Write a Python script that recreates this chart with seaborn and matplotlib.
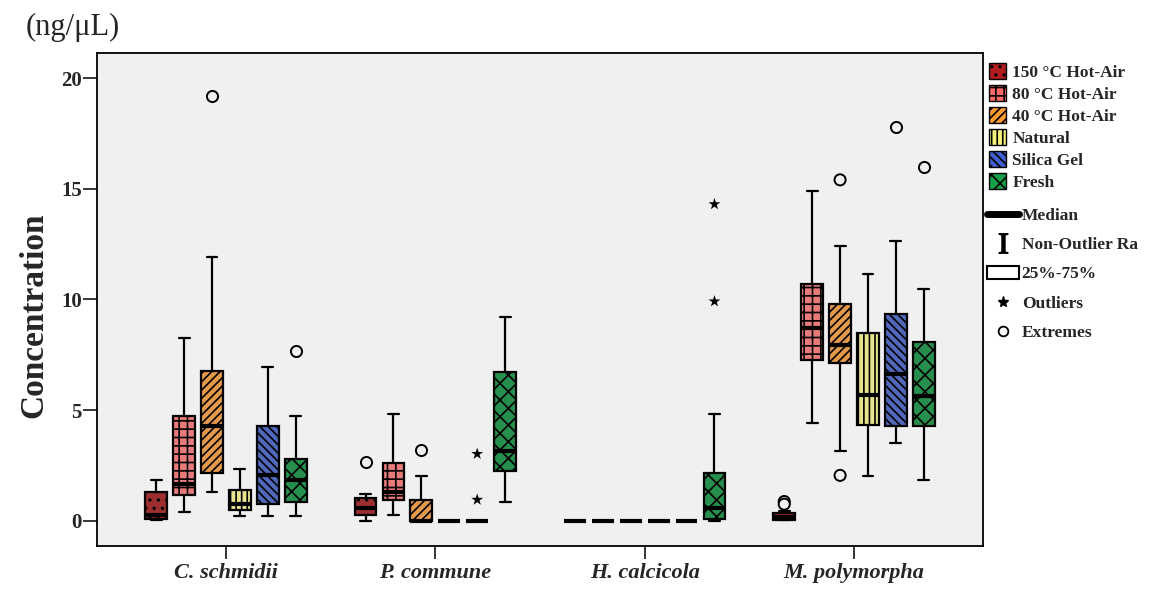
import numpy as np
import pandas as pd
import matplotlib
matplotlib.use("Agg")
import matplotlib.pyplot as plt
import matplotlib.patches as mpatches
from matplotlib.lines import Line2D
import seaborn as sns

# -- data
species = ["C. schmidii", "P. commune", "H. calcicola", "M. polymorpha"]
treatments = ["150 °C Hot-Air", "80 °C Hot-Air", "40 °C Hot-Air",
              "Natural", "Silica Gel", "Fresh"]

# five-number summaries (rows = species, columns = treatments)
whisker_low = [
    [0.05, 0.39, 1.32, 0.20, 0.20, 0.20],
    [0.00, 0.27, 0.00, 0.00, 0.00, 0.83],
    [0.00, 0.00, 0.00, 0.00, 0.00, 0.00],
    [0.02, 4.41, 3.16, 2.03, 3.51, 1.82],
]
quart_1 = [
    [0.07, 1.17, 2.15, 0.47, 0.77, 0.83],
    [0.27, 0.95, 0.00, 0.00, 0.00, 2.23],
    [0.00, 0.00, 0.00, 0.00, 0.00, 0.06],
    [0.05, 7.27, 7.12, 4.33, 4.26, 4.30],
]
medians = [
    [0.25, 1.67, 4.30, 0.75, 2.08, 1.82],
    [0.57, 1.32, 0.00, 0.00, 0.00, 3.17],
    [0.00, 0.00, 0.00, 0.00, 0.00, 0.56],
    [0.15, 8.70, 7.95, 5.69, 6.64, 5.64],
]
quart_3 = [
    [1.30, 4.74, 6.77, 1.40, 4.29, 2.81],
    [1.02, 2.60, 0.92, 0.00, 0.00, 6.74],
    [0.00, 0.00, 0.00, 0.00, 0.00, 2.15],
    [0.33, 10.70, 9.80, 8.50, 9.33, 8.07],
]
whisker_high = [
    [1.82, 8.25, 11.93, 2.35, 6.94, 4.74],
    [1.22, 4.82, 2.00, 0.00, 0.00, 9.22],
    [0.00, 0.00, 0.00, 0.00, 0.00, 4.82],
    [0.45, 14.91, 12.42, 11.15, 12.64, 10.47],
]

# extremes (circles) and outliers (stars)
extreme_species = ["C. schmidii", "C. schmidii", "P. commune", "P. commune",
                   "M. polymorpha", "M. polymorpha", "M. polymorpha",
                   "M. polymorpha", "M. polymorpha", "M. polymorpha"]
extreme_treat = ["40 °C Hot-Air", "Fresh", "150 °C Hot-Air", "40 °C Hot-Air",
                 "150 °C Hot-Air", "150 °C Hot-Air", "40 °C Hot-Air",
                 "40 °C Hot-Air", "Silica Gel", "Fresh"]
extreme_value = [19.19, 7.67, 2.65, 3.20, 0.87, 0.75, 15.40, 2.05, 17.80, 16.00]

outlier_species = ["P. commune", "P. commune", "H. calcicola", "H. calcicola"]
outlier_treat = ["Silica Gel", "Silica Gel", "Fresh", "Fresh"]
outlier_value = [3.02, 0.95, 14.30, 9.91]

colors = ["#B01B1E", "#FA6868", "#FF9A30", "#F8F27C", "#3F5FCF", "#16A049"]
hatches = ["..", "++", "////", "|||", "\\\\\\\\", "xx"]
palette = dict(zip(treatments, colors))
bg = "#F0F0F0"

rows = []
for i, sp in enumerate(species):
    for j, tr in enumerate(treatments):
        for stat in (whisker_low, quart_1, medians, quart_3, whisker_high):
            rows.append({"species": sp, "treatment": tr, "value": stat[i][j]})
df = pd.DataFrame(rows)
ext_df = pd.DataFrame({"species": extreme_species, "treatment": extreme_treat,
                       "value": extreme_value})
out_df = pd.DataFrame({"species": outlier_species, "treatment": outlier_treat,
                       "value": outlier_value})

# -- plot
sns.set_theme(style="ticks")
plt.rcParams["font.family"] = ["Liberation Serif", "DejaVu Serif"]
plt.rcParams["mathtext.fontset"] = "stix"
plt.rcParams["hatch.linewidth"] = 1.2

fig = plt.figure(figsize=(11.52, 5.9), dpi=100)
ax = fig.add_axes([97 / 1152, 44 / 590, 886 / 1152, 493 / 590])
ax.set_facecolor(bg)

sns.boxplot(data=df, x="species", y="value", hue="treatment",
            order=species, hue_order=treatments, palette=palette,
            whis=(0, 100), showfliers=False, width=0.8, gap=0.22,
            linecolor="black", linewidth=1.6,
            medianprops={"linewidth": 3}, legend=False, ax=ax)
for cont, h in zip(ax.containers, hatches):
    for box in cont.boxes:
        box.set_hatch(h)

sns.stripplot(data=ext_df, x="species", y="value", hue="treatment",
              order=species, hue_order=treatments,
              palette={t: bg for t in treatments}, dodge=True, jitter=False,
              size=8, linewidth=1.4, edgecolor="black", marker="o",
              legend=False, ax=ax)
sns.stripplot(data=out_df, x="species", y="value", hue="treatment",
              order=species, hue_order=treatments,
              palette={t: "black" for t in treatments}, dodge=True, jitter=False,
              size=9, linewidth=0, marker="*", legend=False, ax=ax)

ax.set_xlim(-0.616, 3.616)
ax.set_ylim(-1.14, 21.13)
ax.set_yticks([0, 5, 10, 15, 20])
ax.set_xlabel("")
ax.set_ylabel("")
ax.tick_params(axis="y", length=10, width=1.3, pad=1, labelsize=15)
ax.tick_params(axis="x", length=9, width=1.3, pad=3, labelsize=16)
for lab in ax.get_yticklabels():
    lab.set_fontweight("bold")
for lab in ax.get_xticklabels():
    lab.set_fontweight("bold")
    lab.set_fontstyle("italic")
for s in ax.spines.values():
    s.set_visible(True)
    s.set_color("black")
    s.set_linewidth(1.3)

fig.text(26 / 1152, 1 - 27 / 590, "(ng/μL)", fontsize=22, ha="left", va="center")
fig.text(34 / 1152, 1 - 315 / 590, "Concentration", rotation=90, fontsize=24,
         fontweight="bold", ha="center", va="center")

# legends
handles1 = [mpatches.Patch(facecolor=palette[t], edgecolor="black", hatch=h,
                           linewidth=1.0, label=t)
            for t, h in zip(treatments, hatches)]
fig.legend(handles=handles1, loc="upper left",
           bbox_to_anchor=(989 / 1152, 1 - 63 / 590), frameon=False,
           prop={"weight": "bold", "size": 12.5}, handlelength=1.0,
           handleheight=1.0, handletextpad=0.35, labelspacing=0.25,
           borderpad=0, borderaxespad=0)

handles2 = [
    Line2D([], [], color="black", lw=5, solid_capstyle="round", label="Median"),
    Line2D([], [], color="black", lw=0, marker=r"$\mathrm{I}$", markersize=14,
           label="Non-Outlier Ra"),
    mpatches.Patch(facecolor="white", edgecolor="black", linewidth=1.5,
                   label="25%-75%"),
    Line2D([], [], color="black", lw=0, marker="*", markersize=8, label="Outliers"),
    Line2D([], [], color="black", lw=0, marker="o", markersize=7,
           markerfacecolor="white", markeredgewidth=1.3, label="Extremes"),
]
fig.legend(handles=handles2, loc="upper left",
           bbox_to_anchor=(987 / 1152, 1 - 208 / 590), frameon=False,
           prop={"weight": "bold", "size": 12.5}, handlelength=1.85,
           handletextpad=0.15, labelspacing=0.75, borderpad=0, borderaxespad=0)

fig.savefig("out.png", dpi=100)
